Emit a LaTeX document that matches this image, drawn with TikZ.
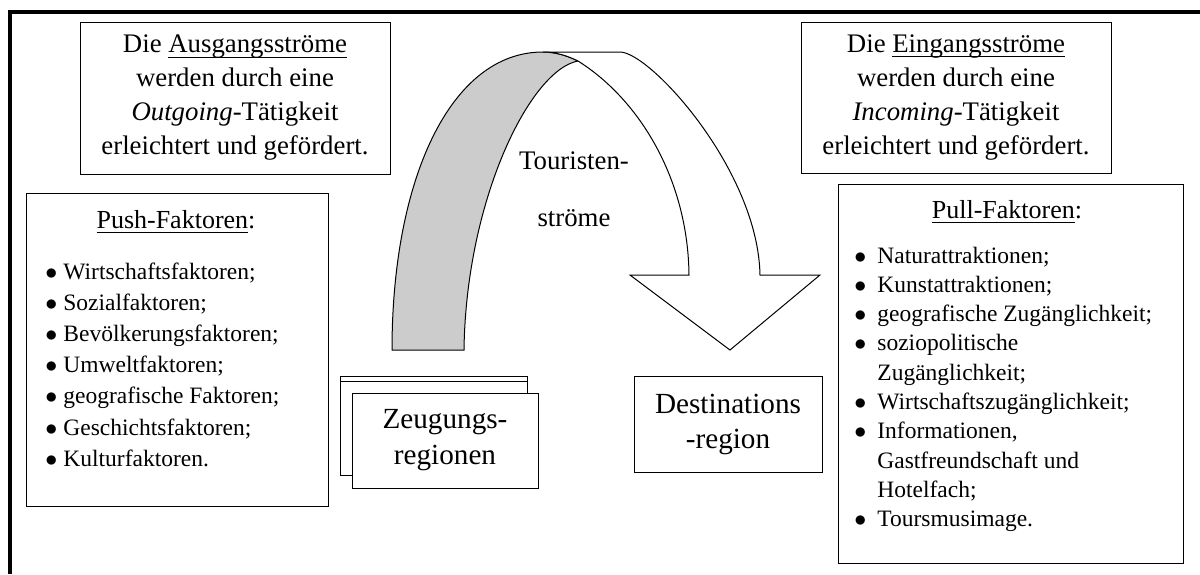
\documentclass[tikz,border=0pt]{standalone}
\usepackage{fontspec}
\setmainfont{Liberation Serif}
\usepackage{tikz}
\usetikzlibrary{positioning}
\newlength{\itmw}
\newcommand{\itm}{\makebox[\itmw][l]{$\bullet$}}
\newcommand{\ind}{\hspace*{\itmw}}
\newcommand{\uln}[1]{\setbox0\hbox{#1}\rlap{\rule[-2.4pt]{\wd0}{0.6pt}}#1}
\tikzset{box/.style={draw,line width=0.5pt,fill=white,inner sep=0pt,align=center},
  infotext/.style={font=\fontsize{13.4}{17}\selectfont},
  regiontext/.style={font=\fontsize{14.6}{18}\selectfont},
  headtext/.style={anchor=base,inner sep=0pt,font=\fontsize{13}{16}\selectfont},
  listtext/.style={anchor=base west,inner sep=0pt,font=\fontsize{11.75}{14}\selectfont}}

\begin{document}
\begin{tikzpicture}[x=0.5pt,y=-0.5pt]
  \useasboundingbox (0,0) rectangle (1200,574);
  \draw[line width=2pt] (9.7,574) |- (1200,12);

  \node[box,infotext,minimum width=155pt,minimum height=76pt] (outinfo) at (235,98)
    {Die \uln{Ausgangsströme}\\werden durch eine\\\textit{Outgoing}-Tätigkeit\\erleichtert und gefördert.};
  \node[box,infotext,minimum width=155pt,minimum height=75.5pt] (ininfo) at (956,97.5)
    {Die \uln{Eingangsströme}\\werden durch eine\\\textit{Incoming}-Tätigkeit\\erleichtert und gefördert.};

  % push factors
  \node[box,minimum width=151pt,minimum height=156.5pt] (pushbox) at (177,349.5) {};
  \node[headtext] (pushhead) at (176,228) {\uln{Push-Faktoren}:};
  \setlength{\itmw}{9pt}
  \foreach \t [count=\i] in {{\itm Wirtschaftsfaktoren;},{\itm Sozialfaktoren;},
      {\itm Bevölkerungsfaktoren;},{\itm Umweltfaktoren;},{\itm geografische Faktoren;},
      {\itm Geschichtsfaktoren;},{\itm Kulturfaktoren.}}
    \node[listtext] (push\i) at (45,{279+31.2*(\i-1)}) {\t};

  % pull factors
  \node[box,minimum width=172.5pt,minimum height=189.5pt] (pullbox) at (1010.5,373.5) {};
  \node[headtext] (pullhead) at (1007,218) {\uln{Pull-Faktoren}:};
  \setlength{\itmw}{11.5pt}
  \foreach \t [count=\i] in {{\itm Naturattraktionen;},{\itm Kunstattraktionen;},
      {\itm geografische Zugänglichkeit;},{\itm soziopolitische},{\ind Zugänglichkeit;},
      {\itm Wirtschaftszugänglichkeit;},{\itm Informationen,},{\ind Gastfreundschaft und},
      {\ind Hotelfach;},{\itm Toursmusimage.}}
    \node[listtext] (pull\i) at (854,{263+29.3*(\i-1)}) {\t};

  % curved arrow
  \draw[line width=0.5pt,fill=black!20] (392,350) .. controls (392,180) and (450,52) .. (543,52)
    .. controls (556,52) and (568,56) .. (578,61)
    .. controls (530,70) and (466,200) .. (464,350) -- cycle;
  \draw[line width=0.5pt,fill=white] (543,52) -- (620,52)
    .. controls (650,52) and (758,170) .. (760,275) -- (820,275) -- (730,350) -- (630,275) -- (689,275)
    .. controls (688,180) and (640,100) .. (578,61)
    .. controls (568,56) and (556,52) .. (543,52) -- cycle;
  \node[inner sep=0pt,align=center,font=\fontsize{13.4}{28.5}\selectfont] (flows) at (574,189.3)
    {Touristen-\\ströme};

  % regions
  \node[box,minimum width=93.5pt,minimum height=49.5pt] (zback1) at (433.5,425.5) {};
  \node[box,minimum width=93.5pt,minimum height=47pt] (zback2) at (433.5,428) {};
  \node[box,regiontext,minimum width=93pt,minimum height=47.5pt] (origin) at (445,440.5)
    {Zeugungs-\\regionen};
  \node[box,regiontext,minimum width=94pt,minimum height=48pt,font=\fontsize{14.6}{17.5}\selectfont]
    (dest) at (728,424) {Destinations\\-region};
\end{tikzpicture}
\end{document}
